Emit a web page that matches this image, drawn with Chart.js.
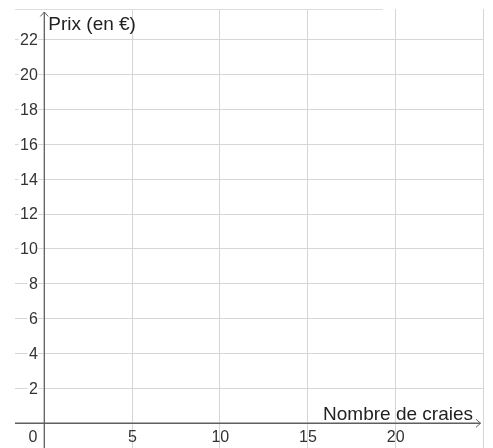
<!DOCTYPE html>
<html>
<head>
<meta charset="utf-8">
<script src="https://cdn.jsdelivr.net/npm/chart.js@4"></script>
<style>
  html, body { margin: 0; padding: 0; background: #fff; }
  #wrap { width: 493px; height: 448px; position: relative; }
</style>
</head>
<body>
<div id="wrap"><canvas id="chart"></canvas></div>
<script>
// Repère vide : seulement les graduations et les titres d'axes
const xTickLabels = [0, 5, 10, 15, 20];
const yTickLabels = [2, 4, 6, 8, 10, 12, 14, 16, 18, 20, 22];
const xGridValues = [0, 5, 10, 15, 20, 25];
const yGridValues = [0, 2, 4, 6, 8, 10, 12, 14, 16, 18, 20, 22];
const xTitle = 'Nombre de craies';
const yTitle = 'Prix (en €)';
const points = [];

const FONT = '"Liberation Sans", Arial, sans-serif';

const axesPlugin = {
    id: 'axes',
    afterDraw(chart) {
        const ctx = chart.ctx;
        const xs = chart.scales.x;
        const ys = chart.scales.y;
        const area = chart.chartArea;
        const x0 = xs.getPixelForValue(0);
        const y0 = ys.getPixelForValue(0);

        ctx.save();

        // top border of the graphics view
        ctx.strokeStyle = '#dcdcdc';
        ctx.lineWidth = 1;
        ctx.beginPath();
        ctx.moveTo(area.left, area.top + 0.5);
        ctx.lineTo(xs.getPixelForValue(19.3), area.top + 0.5);
        ctx.stroke();

        // axes
        ctx.strokeStyle = '#5f5f5f';
        ctx.lineWidth = 1.3;
        ctx.beginPath();
        ctx.moveTo(area.left, y0);
        ctx.lineTo(area.right - 2.5, y0);
        ctx.moveTo(x0, area.bottom);
        ctx.lineTo(x0, area.top + 3);
        ctx.stroke();

        // arrows
        ctx.lineWidth = 1;
        ctx.beginPath();
        ctx.moveTo(area.right - 7, y0 - 4);
        ctx.lineTo(area.right - 2.5, y0);
        ctx.lineTo(area.right - 7, y0 + 4);
        ctx.moveTo(x0 - 4, area.top + 7.5);
        ctx.lineTo(x0, area.top + 3);
        ctx.lineTo(x0 + 4, area.top + 7.5);
        ctx.stroke();

        // y tick labels, white box behind
        ctx.font = '16px ' + FONT;
        ctx.textBaseline = 'middle';
        ctx.textAlign = 'right';
        yTickLabels.forEach(v => {
            const y = ys.getPixelForValue(v);
            const t = String(v);
            const w = ctx.measureText(t).width;
            ctx.fillStyle = '#fff';
            ctx.fillRect(x0 - 7 - w - 1, y - 6, w + 2, 12);
            ctx.fillStyle = '#333';
            ctx.fillText(t, x0 - 6.5, y + 1);
        });

        // x tick labels
        xTickLabels.forEach(v => {
            const t = String(v);
            ctx.fillStyle = '#333';
            if (v === 0) {
                ctx.textAlign = 'right';
                ctx.fillText(t, x0 - 7, y0 + 14);
            } else {
                ctx.textAlign = 'center';
                ctx.fillText(t, xs.getPixelForValue(v) + 0.5, y0 + 14);
            }
        });

        // axis titles
        ctx.font = '19px ' + FONT;
        ctx.textBaseline = 'alphabetic';
        ctx.fillStyle = '#222';
        ctx.textAlign = 'left';
        ctx.fillText(yTitle, x0 + 4, area.top + 21);
        ctx.textAlign = 'right';
        ctx.fillText(xTitle, area.right - 10, y0 - 3);

        ctx.restore();
    }
};

new Chart(document.getElementById('chart'), {
    type: 'scatter',
    data: {
        datasets: [{ data: points, pointRadius: 0 }]
    },
    options: {
        responsive: true,
        maintainAspectRatio: false,
        animation: false,
        layout: { padding: { left: 15, right: 10, top: 9, bottom: 0 } },
        plugins: { legend: { display: false }, tooltip: { enabled: false } },
        scales: {
            x: {
                type: 'linear',
                min: -1.67,
                max: 25,
                afterBuildTicks: s => { s.ticks = xGridValues.map(v => ({ value: v })); },
                ticks: { display: false },
                border: { display: false },
                grid: {
                    drawTicks: false,
                    color: c => (c.tick && c.tick.value === 0) ? 'rgba(0,0,0,0)' : '#d6d6d6',
                    lineWidth: 1
                }
            },
            y: {
                type: 'linear',
                min: -1.42,
                max: 23.76,
                afterBuildTicks: s => { s.ticks = yGridValues.map(v => ({ value: v })); },
                ticks: { display: false },
                border: { display: false },
                grid: {
                    drawTicks: false,
                    color: c => (c.tick && c.tick.value === 0) ? 'rgba(0,0,0,0)' : '#d6d6d6',
                    lineWidth: 1
                }
            }
        }
    },
    plugins: [axesPlugin]
});
</script>
</body>
</html>
